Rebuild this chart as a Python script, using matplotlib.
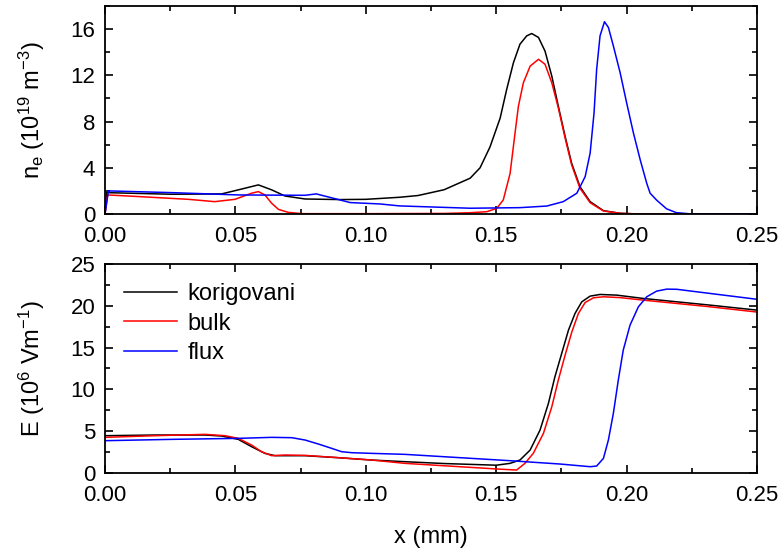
import matplotlib.pyplot as plt
from matplotlib.ticker import MultipleLocator

plt.rcParams['font.family'] = ['Liberation Sans', 'DejaVu Sans']
plt.rcParams['mathtext.fontset'] = 'custom'
plt.rcParams['mathtext.rm'] = 'Liberation Sans'
plt.rcParams['mathtext.it'] = 'Liberation Sans'

# electron density, 1e19 m^-3
x_ne_k = [0.0, 0.0006, 0.0256, 0.0447, 0.0511, 0.0588, 0.0639, 0.069, 0.0767, 0.09, 0.10, 0.113,
          0.12, 0.13, 0.140, 0.1438, 0.1476, 0.1515, 0.154, 0.1566, 0.1591, 0.1617, 0.1636,
          0.1662, 0.1687, 0.1713, 0.1738, 0.1764, 0.1789, 0.1821, 0.186, 0.1911, 0.1975,
          0.205, 0.25]
ne_k = [0.0, 1.85, 1.71, 1.74, 2.09, 2.52, 2.09, 1.56, 1.3, 1.25, 1.27, 1.45,
        1.6, 2.1, 3.1, 4.0, 5.8, 8.3, 10.78, 13.1, 14.7, 15.42, 15.62,
        15.28, 14.1, 11.94, 9.33, 6.72, 4.4, 2.37, 1.07, 0.29, 0.06,
        0.0, 0.0]

x_ne_b = [0.0, 0.001, 0.0128, 0.032, 0.042, 0.0498, 0.0562, 0.0588, 0.0613, 0.0639, 0.0665,
          0.0703, 0.0755, 0.10, 0.13, 0.140, 0.1464, 0.1502, 0.1527, 0.1553, 0.1572, 0.1585,
          0.1604, 0.163, 0.1662, 0.1687, 0.1713, 0.1738, 0.1764, 0.1789, 0.1821, 0.186,
          0.1911, 0.1975, 0.205, 0.25]
ne_b = [0.0, 1.65, 1.51, 1.27, 1.07, 1.27, 1.80, 1.94, 1.65, 0.93, 0.4,
        0.14, 0.03, 0.03, 0.05, 0.11, 0.2, 0.49, 1.22, 3.5, 7.0, 9.33,
        11.36, 12.8, 13.39, 12.96, 11.36, 9.19, 6.58, 4.26, 2.23, 0.98,
        0.26, 0.06, 0.0, 0.0]

x_ne_f = [0.0, 0.0013, 0.0256, 0.0511, 0.0767, 0.081, 0.0876, 0.094, 0.1054, 0.113, 0.140,
          0.1591, 0.1694, 0.1757, 0.1809, 0.1841, 0.186, 0.1875, 0.1885, 0.1898, 0.1915,
          0.193, 0.1949, 0.1975, 0.2, 0.2026, 0.2052, 0.2077, 0.209, 0.2115, 0.2153, 0.219,
          0.225, 0.25]
ne_f = [0.0, 2.0, 1.85, 1.65, 1.62, 1.74, 1.36, 0.99, 0.87, 0.7, 0.5,
        0.55, 0.69, 1.07, 1.8, 3.24, 5.27, 8.75, 12.52, 15.42, 16.64,
        16.15, 14.55, 12.23, 9.62, 7.01, 4.69, 2.66, 1.8, 1.2, 0.45, 0.12,
        0.0, 0.0]

# electric field, 1e6 V/m
x_e_k = [0.0, 0.0192, 0.0383, 0.0447, 0.0511, 0.0562, 0.0613, 0.0652, 0.0767, 0.0895, 0.1022,
         0.115, 0.13, 0.150, 0.1553, 0.1591, 0.163, 0.1668, 0.17, 0.1725, 0.1751, 0.1777,
         0.1802, 0.1828, 0.186, 0.1898, 0.1962, 0.2064, 0.232, 0.25]
e_k = [4.44, 4.52, 4.52, 4.4, 4.0, 3.12, 2.32, 2.04, 2.04, 1.8, 1.52,
       1.32, 1.1, 0.9, 1.12, 1.52, 2.72, 5.12, 8.31, 11.51, 14.31, 17.11,
       19.1, 20.5, 21.18, 21.38, 21.3, 20.9, 20.1, 19.5]

x_e_b = [0.0, 0.0192, 0.0383, 0.046, 0.0511, 0.0562, 0.06, 0.0639, 0.069, 0.0767, 0.0895,
         0.1022, 0.115, 0.150, 0.1578, 0.161, 0.1642, 0.1681, 0.1713, 0.1738, 0.1764, 0.179,
         0.1815, 0.1841, 0.1873, 0.1911, 0.1975, 0.2064, 0.232, 0.25]
e_b = [4.24, 4.44, 4.6, 4.44, 4.12, 3.32, 2.52, 2.04, 2.12, 2.08, 1.8,
       1.52, 1.12, 0.45, 0.32, 1.12, 2.32, 4.72, 7.91, 11.11, 14.1, 16.9,
       19.1, 20.42, 20.98, 21.1, 21.0, 20.7, 19.9, 19.27]

x_e_f = [0.0, 0.0256, 0.0511, 0.0639, 0.0716, 0.0767, 0.0818, 0.0869, 0.0907, 0.0946, 0.1022,
         0.115, 0.1553, 0.1745, 0.186, 0.1885, 0.1911, 0.193, 0.1949, 0.1968, 0.1987, 0.2013,
         0.2045, 0.2077, 0.2115, 0.2154, 0.2192, 0.232, 0.25]
e_f = [3.84, 4.0, 4.12, 4.24, 4.2, 3.92, 3.44, 2.92, 2.52, 2.4, 2.32,
       2.2, 1.44, 1.04, 0.72, 0.8, 1.72, 3.92, 7.11, 11.11, 14.71, 17.7,
       19.9, 21.1, 21.78, 22.02, 22.0, 21.5, 20.8]

fig = plt.figure(figsize=(7.82, 5.53), dpi=100)
ax1 = fig.add_axes([0.1343, 0.6130, 0.8338, 0.3761])
ax2 = fig.add_axes([0.1343, 0.1452, 0.8338, 0.3769])

lw = 1.1
ax1.plot(x_ne_k, ne_k, color='black', lw=lw)
ax1.plot(x_ne_b, ne_b, color='red', lw=lw)
ax1.plot(x_ne_f, ne_f, color='blue', lw=lw)

ax2.plot(x_e_k, e_k, color='black', lw=lw, label='korigovani')
ax2.plot(x_e_b, e_b, color='red', lw=lw, label='bulk')
ax2.plot(x_e_f, e_f, color='blue', lw=lw, label='flux')

ax1.set_ylim(0, 18)
ax1.yaxis.set_major_locator(MultipleLocator(4))
ax1.yaxis.set_minor_locator(MultipleLocator(2))
ax2.set_ylim(0, 25)
ax2.yaxis.set_major_locator(MultipleLocator(5))
ax2.yaxis.set_minor_locator(MultipleLocator(2.5))

for ax in (ax1, ax2):
    ax.set_xlim(0, 0.25)
    ax.xaxis.set_major_locator(MultipleLocator(0.05))
    ax.xaxis.set_minor_locator(MultipleLocator(0.025))
    ax.xaxis.set_major_formatter(plt.FormatStrFormatter('%.2f'))
    ax.tick_params(which='both', direction='in', top=True, right=True, labelsize=16, width=1.2)
    ax.tick_params(which='major', length=6)
    ax.tick_params(which='minor', length=3.5)
    ax.tick_params(axis='y', pad=7)
    ax.tick_params(axis='x', pad=8.5)
    for s in ax.spines.values():
        s.set_linewidth(1.3)

ax1.set_ylabel('n$_\\mathregular{e}$ (10$^{19}$ m$^{-3}$)', fontsize=17, labelpad=17)
ax2.set_ylabel('E (10$^6$ Vm$^{-1}$)', fontsize=17, labelpad=17)
ax2.set_xlabel('x (mm)', fontsize=17, labelpad=15)

ax2.legend(loc='upper left', frameon=False, fontsize=17, handlelength=2.25,
           handletextpad=0.45, labelspacing=0.32, borderaxespad=0.4)

fig.savefig('out.png', dpi=100)
